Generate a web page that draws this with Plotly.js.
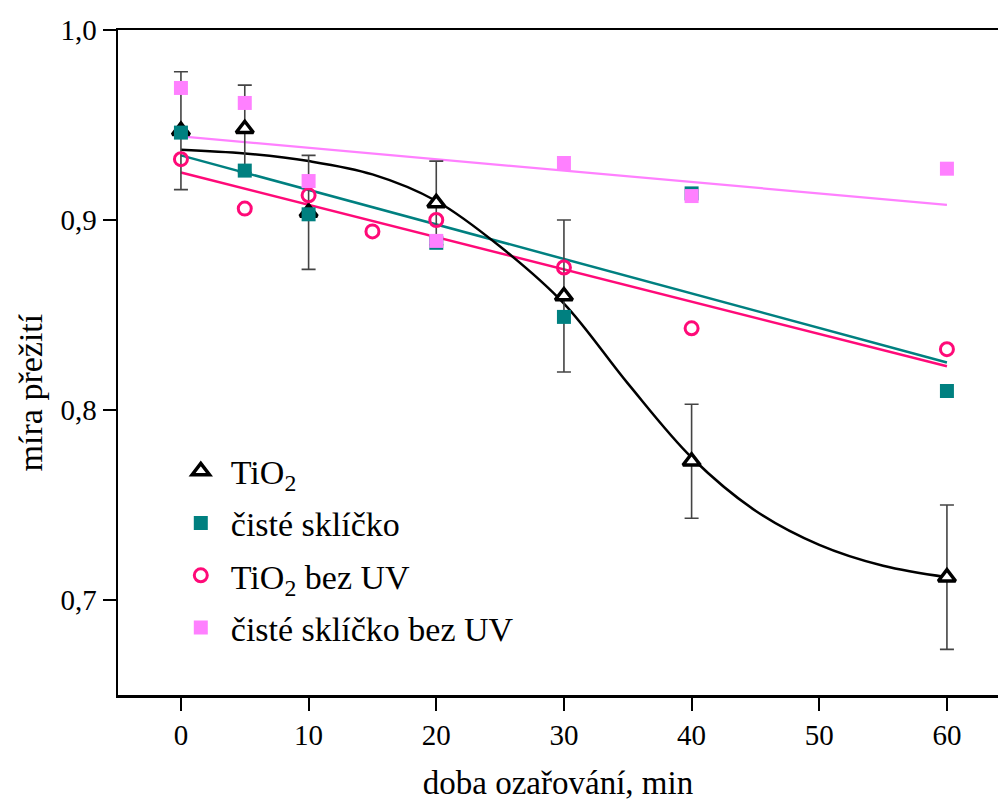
<!DOCTYPE html>
<html>
<head>
<meta charset="utf-8">
<script src="https://cdn.plot.ly/plotly-3.0.1.min.js"></script>
<style>html,body{margin:0;padding:0;background:#fff;}</style>
</head>
<body>
<div id="chart" style="width:998px;height:801px;"></div>
<script>
// --- data ---
const tioX = [0, 5, 10, 20, 30, 40, 60];
const tioY = [0.947, 0.948, 0.904, 0.909, 0.860, 0.773, 0.712];
const tioErr = [0.031, 0.023, 0.030, 0.022, 0.040, 0.030, 0.038];

const sklX = [0, 5, 10, 20, 30, 40, 60];
const sklY = [0.946, 0.926, 0.903, 0.888, 0.849, 0.914, 0.810];

const tioUvX = [0, 5, 10, 15, 20, 30, 40, 60];
const tioUvY = [0.932, 0.906, 0.913, 0.894, 0.900, 0.875, 0.843, 0.832];

const sklUvX = [0, 5, 10, 20, 30, 40, 60];
const sklUvY = [0.9695, 0.9616, 0.9205, 0.889, 0.930, 0.9126, 0.927];

// fitted curves
const tioFitX = [0, 5, 10, 15, 20, 25, 30, 35, 40, 45, 50, 55, 60];
const tioFitY = [0.937, 0.935, 0.931, 0.924, 0.910, 0.886, 0.856, 0.814, 0.775, 0.747, 0.729, 0.718, 0.712];
const fitEndsX = [0, 60];
const sklFitY = [0.934, 0.825];
const tioUvFitY = [0.925, 0.823];
const sklUvFitY = [0.944, 0.908];

const names = ['TiO<sub>2</sub>', 'čisté sklíčko', 'TiO<sub>2</sub> bez UV', 'čisté sklíčko bez UV'];
const xTitle = 'doba ozařování, min';
const yTitle = 'míra přežití';
const cBlack = '#000000', cTeal = '#008080', cPink = '#ff0a78', cLight = '#ff80ff';

const traces = [
  {x: fitEndsX, y: sklUvFitY, mode: 'lines', line: {color: cLight, width: 2.2}, showlegend: false, hoverinfo: 'skip'},
  {x: fitEndsX, y: sklFitY, mode: 'lines', line: {color: cTeal, width: 2.5}, showlegend: false, hoverinfo: 'skip'},
  {x: fitEndsX, y: tioUvFitY, mode: 'lines', line: {color: cPink, width: 2.5}, showlegend: false, hoverinfo: 'skip'},
  {x: tioFitX, y: tioFitY, mode: 'lines', line: {color: cBlack, width: 2.5, shape: 'spline', smoothing: 1}, showlegend: false, hoverinfo: 'skip'},
  {x: tioX, y: tioY, name: names[0], legendgroup: 'g1', mode: 'markers',
   marker: {symbol: 'triangle-up', size: 15, color: '#ffffff', line: {color: cBlack, width: 3.5}},
   error_y: {type: 'data', array: tioErr, visible: true, color: '#444444', thickness: 1.6, width: 7}},
  {x: sklX, y: sklY, name: names[1], legendgroup: 'g2', mode: 'markers',
   marker: {symbol: 'square', size: 14, color: cTeal}},
  {x: tioUvX, y: tioUvY, name: names[2], legendgroup: 'g3', mode: 'markers',
   marker: {symbol: 'circle', size: 13, color: 'rgba(255,255,255,0)', line: {color: cPink, width: 3}}},
  {x: sklUvX, y: sklUvY, name: names[3], legendgroup: 'g4', mode: 'markers',
   marker: {symbol: 'square', size: 14, color: cLight}}
];

const font = 'Liberation Serif, Times New Roman, serif';
const layout = {
  width: 998, height: 801,
  margin: {l: 118, r: 0, t: 30, b: 106},
  paper_bgcolor: '#fff', plot_bgcolor: '#fff',
  separators: ', ',
  font: {family: font, color: '#000', size: 29},
  showlegend: true,
  legend: {x: 0.06, y: 0.38, xanchor: 'left', yanchor: 'top', bgcolor: 'rgba(0,0,0,0)',
           traceorder: 'grouped', tracegroupgap: 5,
           font: {family: font, size: 34, color: '#000'}, itemwidth: 50},
  xaxis: {
    range: [-4.93, 64], tickvals: [0, 10, 20, 30, 40, 50, 60],
    showgrid: false, zeroline: false, showline: true, linecolor: '#000', linewidth: 2.5, mirror: true,
    ticks: 'outside', ticklen: 13, tickwidth: 2, tickcolor: '#000',
    tickfont: {family: font, size: 29},
    title: {text: xTitle, font: {family: font, size: 33}, standoff: 26}
  },
  yaxis: {
    range: [0.65, 1.0], tickvals: [0.7, 0.8, 0.9, 1.0], tickformat: '.1f',
    showgrid: false, zeroline: false, showline: true, linecolor: '#000', linewidth: 2.5,
    ticks: 'outside', ticklen: 13, tickwidth: 2, tickcolor: '#000',
    tickfont: {family: font, size: 29}
  },
  annotations: [{
    text: yTitle, xref: 'paper', yref: 'paper', x: -0.1, y: 0.455,
    xanchor: 'center', yanchor: 'middle', textangle: -90, showarrow: false,
    font: {family: font, size: 34, color: '#000'}
  }]
};

Plotly.newPlot('chart', traces, layout, {displayModeBar: false, staticPlot: true});
</script>
</body>
</html>
